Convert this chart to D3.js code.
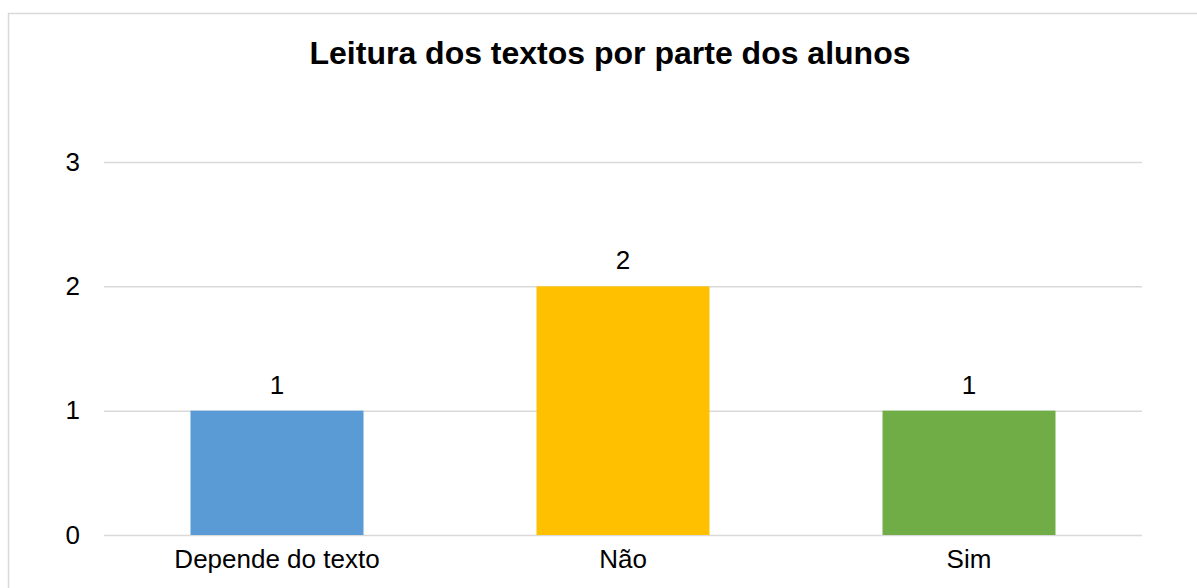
<!DOCTYPE html>
<html>
<head>
<meta charset="utf-8">
<script src="https://cdn.jsdelivr.net/npm/d3@7"></script>
<style>
  html, body { margin: 0; padding: 0; background: #fff; }
  svg { display: block; font-family: "Liberation Sans", Arial, sans-serif; }
</style>
</head>
<body>
<div id="chart"></div>
<script>
// chart data
var categories = ['Depende do texto', 'Não', 'Sim'];
var values = [1, 2, 1];
var colors = ['#5B9BD5', '#FFC000', '#70AD47'];
var yTicks = [0, 1, 2, 3];
var title = 'Leitura dos textos por parte dos alunos';

var W = 1197, H = 588;
var margin = { top: 162, right: 55, bottom: 53, left: 104 };
var width = W - margin.left - margin.right;
var height = H - margin.top - margin.bottom;
var FONT = '"Liberation Sans", Arial, sans-serif';

var svg = d3.select('#chart').append('svg').attr('width', W).attr('height', H);

// outer chart border
svg.append('rect').attr('x', 8.5).attr('y', 13.5)
  .attr('width', W + 10).attr('height', H + 10)
  .attr('fill', 'none').attr('stroke', '#d9d9d9').attr('stroke-width', 1.5);

var g = svg.append('g').attr('transform', 'translate(' + margin.left + ',' + margin.top + ')');

var x = d3.scaleBand().domain(categories).range([0, width]).paddingInner(0.5).paddingOuter(0.25);
var y = d3.scaleLinear().domain([0, 3]).range([height, 0]);

// grid lines
g.append('g')
  .call(d3.axisLeft(y).tickValues(yTicks).tickSize(-width).tickFormat(''))
  .call(function(a) { a.select('.domain').remove(); })
  .selectAll('line').attr('stroke', '#d9d9d9').attr('stroke-width', 1.5);

// bars
g.selectAll('.bar').data(values).enter().append('rect')
  .attr('x', function(d, i) { return x(categories[i]); })
  .attr('y', function(d) { return y(d); })
  .attr('width', x.bandwidth())
  .attr('height', function(d) { return height - y(d); })
  .attr('fill', function(d, i) { return colors[i]; });

// value labels
g.selectAll('.lbl').data(values).enter().append('text')
  .attr('x', function(d, i) { return x(categories[i]) + x.bandwidth() / 2; })
  .attr('y', function(d) { return y(d) - 17; })
  .attr('text-anchor', 'middle').attr('font-size', '26px').attr('fill', '#000')
  .attr('font-family', FONT)
  .text(function(d) { return d; });

// y axis labels
g.append('g')
  .call(d3.axisLeft(y).tickValues(yTicks).tickSize(0).tickPadding(24).tickFormat(d3.format('d')))
  .call(function(a) { a.select('.domain').remove(); })
  .selectAll('text').attr('font-size', '26px').attr('fill', '#000')
  .attr('font-family', FONT);

// x axis labels
g.append('g').attr('transform', 'translate(0,' + height + ')')
  .call(d3.axisBottom(x).tickSize(0).tickPadding(15))
  .call(function(a) { a.select('.domain').remove(); })
  .selectAll('text').attr('font-size', '26px').attr('fill', '#000')
  .attr('font-family', FONT);

// title
svg.append('text').attr('x', 610).attr('y', 64)
  .attr('text-anchor', 'middle').attr('font-size', '32px').attr('font-weight', 'bold')
  .attr('font-family', FONT)
  .attr('fill', '#000').text(title);
</script>
</body>
</html>
